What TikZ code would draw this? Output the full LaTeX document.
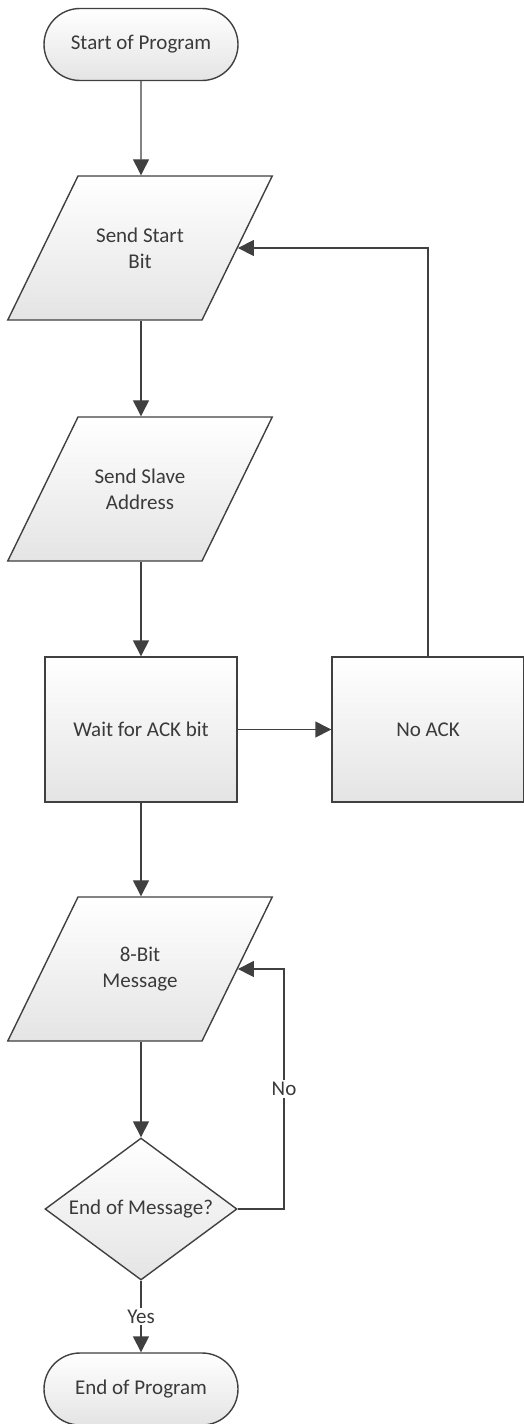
\documentclass[tikz,border=0pt]{standalone}
\usepackage{fontspec}
\setmainfont{Carlito}
\usepackage{tikz}
\usetikzlibrary{
  arrows.meta,
  shapes.geometric,
  shapes.misc,
  positioning,
  calc
}
\definecolor{fcLine}{HTML}{404040}
\definecolor{fcText}{HTML}{3A3A3A}
\definecolor{fcShade}{HTML}{E4E4E4}
% fixed text box so the slant of the parallelograms comes out right
\newcommand{\iotext}[1]{\parbox[c][144pt][c]{124pt}{\centering #1}}
\tikzset{
  fcnode/.style={
    draw=fcLine, line width=1.4pt, top color=white, bottom color=fcShade,
    font=\fontsize{21}{26}\selectfont, text=fcText, align=center, inner sep=0pt
  },
  fcterm/.style={fcnode, rounded rectangle, minimum width=194pt, minimum height=72pt},
  fcio/.style={fcnode, trapezium, trapezium left angle=64, trapezium right angle=116},
  fcproc/.style={fcnode, rectangle, minimum width=192pt, minimum height=145pt},
  fcdec/.style={fcnode, diamond, aspect=1.35, minimum width=192pt, minimum height=142pt},
  flow/.style={-{Triangle[length=16pt, width=16pt]}, line width=1.4pt, fcLine},
  tag/.style={font=\fontsize{21}{26}\selectfont, text=fcText, fill=white, inner sep=2pt}
}

\begin{document}
\begin{tikzpicture}[x=1pt, y=-1pt]
  \useasboundingbox (0,0) rectangle (523,1424);
  % main column
  \node[fcterm] (start)     at (141,44.5)  {Start of Program};
  \node[fcio]   (sendstart) at (140,248)   {\iotext{Send Start\\Bit}};
  \node[fcio]   (sendaddr)  at (140,489)   {\iotext{Send Slave\\Address}};
  \node[fcproc] (waitack)   at (141,729.5) {Wait for ACK bit};
  \node[fcproc] (noack)     at (428,729.5) {No ACK};
  \node[fcio]   (msg)       at (140,969)   {\iotext{8-Bit\\Message}};
  \node[fcdec]  (endmsg)    at (141,1209)  {End of Message?};
  \node[fcterm] (stop)      at (141,1389)  {End of Program};
  \coordinate (nocorner) at (284,1209);

  \draw[flow] (start) -- (sendstart.north -| start);
  \draw[flow] (sendstart.south -| start) -- (sendaddr.north -| start);
  \draw[flow] (sendaddr.south -| start) -- (waitack);
  \draw[flow] (waitack) -- (noack);
  \draw[flow] (noack.north) |- (sendstart.east);
  \draw[flow] (waitack) -- (msg.north -| waitack);
  \draw[flow] (msg.south -| waitack) -- (endmsg);
  \draw[flow] (endmsg.east) -- (nocorner) |- node[tag, pos=0.25] {No} (msg.east);
  \draw[flow] (endmsg) -- node[tag] {Yes} (stop);
\end{tikzpicture}
\end{document}
